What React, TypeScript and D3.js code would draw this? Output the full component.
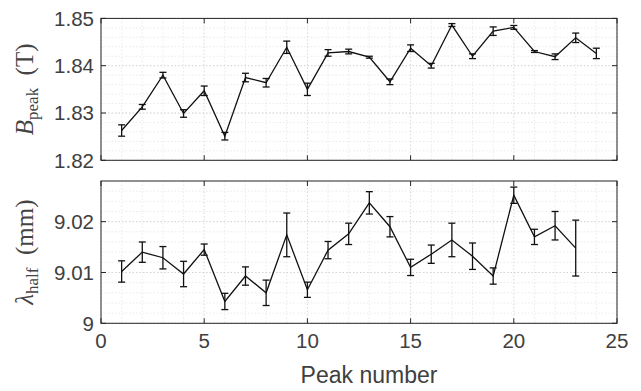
import React from "react";
import * as d3 from "d3";

const peakNumbers = [1,2,3,4,5,6,7,8,9,10,11,12,13,14,15,16,17,18,19,20,21,22,23,24];
const bPeak = [1.8263,1.8313,1.8380,1.8299,1.8347,1.8251,1.8375,1.8364,1.8439,1.8350,1.8427,1.8430,1.8418,1.8366,1.8437,1.8400,1.8486,1.8420,1.8473,1.8481,1.8430,1.8419,1.8459,1.8426];
const bErr = [0.0012,0.0005,0.0006,0.0008,0.0010,0.0008,0.0009,0.0009,0.0013,0.0013,0.0007,0.0005,0.0002,0.0006,0.0007,0.0005,0.0003,0.0005,0.0009,0.0004,0.0002,0.0006,0.0010,0.0011];
const lHalf = [9.0102,9.0140,9.0129,9.0097,9.0145,9.0043,9.0093,9.0060,9.0174,9.0066,9.0144,9.0176,9.0237,9.0190,9.0110,9.0136,9.0164,9.0132,9.0093,9.0252,9.0170,9.0192,9.0148];
const lErr = [0.0021,0.0020,0.0022,0.0025,0.0011,0.0016,0.0018,0.0025,0.0043,0.0015,0.0017,0.0021,0.0022,0.0020,0.0016,0.0018,0.0033,0.0026,0.0016,0.0016,0.0015,0.0028,0.0055];

const xTicks = [0,5,10,15,20,25];
const bTicks = [1.82,1.83,1.84,1.85];
const bTickLabels = ["1.82","1.83","1.84","1.85"];
const lTicks = [9,9.01,9.02];
const lTickLabels = ["9","9.01","9.02"];

const W = 641, H = 391;
const left = 101, right = 617;
const axisColor = "#262626";
const textColor = "#404040";
const tickFont = "'Liberation Sans', Arial, sans-serif";
const serif = "'Liberation Serif', 'Times New Roman', serif";

const x = d3.scaleLinear().domain([0, 25]).range([left, right]);

type PanelProps = {
  top: number; bottom: number; domain: [number, number];
  ys: number[]; errs: number[]; ticks: number[]; tickLabels: string[];
  minorStep: number; label: React.ReactNode;
};

function Panel({ top, bottom, domain, ys, errs, ticks, tickLabels, minorStep, label }: PanelProps) {
  const y = d3.scaleLinear().domain(domain).range([bottom, top]);
  const pts: [number, number][] = ys.map((v, i) => [x(peakNumbers[i]), y(v)]);
  const line = d3.line()(pts) || "";
  const minorX = d3.range(0, 26, 1);
  const nMinor = Math.round((domain[1] - domain[0]) / minorStep);
  const minorY = d3.range(0, nMinor + 1).map(i => domain[0] + i * minorStep);
  const tl = 5;
  return (
    <g>
      {minorX.map(v => (
        <line key={"mx" + v} x1={x(v)} x2={x(v)} y1={top} y2={bottom}
          stroke={v % 5 === 0 ? "#cfcfcf" : "#e4e4e4"} strokeWidth={0.8} strokeDasharray="1.5,2" />
      ))}
      {minorY.map((v, i) => (
        <line key={"my" + i} x1={left} x2={right} y1={y(v)} y2={y(v)}
          stroke="#e4e4e4" strokeWidth={0.8} strokeDasharray="1.5,2" />
      ))}
      {ticks.map((v, i) => (
        <line key={"gy" + i} x1={left} x2={right} y1={y(v)} y2={y(v)}
          stroke="#cfcfcf" strokeWidth={0.8} strokeDasharray="1.5,2" />
      ))}
      <rect x={left} y={top} width={right - left} height={bottom - top} fill="none" stroke={axisColor} strokeWidth={1} />
      {xTicks.map(v => (
        <g key={"xt" + v}>
          <line x1={x(v)} x2={x(v)} y1={bottom} y2={bottom - tl} stroke={axisColor} />
          <line x1={x(v)} x2={x(v)} y1={top} y2={top + tl} stroke={axisColor} />
        </g>
      ))}
      {ticks.map((v, i) => (
        <g key={"yt" + i}>
          <line x1={left} x2={left + tl} y1={y(v)} y2={y(v)} stroke={axisColor} />
          <line x1={right} x2={right - tl} y1={y(v)} y2={y(v)} stroke={axisColor} />
          <text x={left - 7} y={y(v)} dy="0.36em" textAnchor="end" fontFamily={tickFont} fontSize={20.5} fill={textColor}>{tickLabels[i]}</text>
        </g>
      ))}
      <path d={line} fill="none" stroke="#111" strokeWidth={1.3} />
      {ys.map((v, i) => {
        const cx = x(peakNumbers[i]);
        const y0 = y(v - errs[i]);
        const y1 = y(v + errs[i]);
        return (
          <g key={"e" + i} stroke="#111" strokeWidth={1.3}>
            <line x1={cx} x2={cx} y1={y0} y2={y1} />
            <line x1={cx - 3.5} x2={cx + 3.5} y1={y0} y2={y0} />
            <line x1={cx - 3.5} x2={cx + 3.5} y1={y1} y2={y1} />
          </g>
        );
      })}
      <text transform={`translate(33,${(top + bottom) / 2}) rotate(-90)`} textAnchor="middle" fontFamily={serif} fontSize={25} fill="#444">{label}</text>
    </g>
  );
}

export default function App() {
  return (
    <svg width={W} height={H} style={{ position: "absolute", left: 0, top: 0, background: "#fff" }}>
      <rect width={W} height={H} fill="#fff" />
      <Panel top={18.4} bottom={160.3} domain={[1.82, 1.85]} ys={bPeak} errs={bErr}
        ticks={bTicks} tickLabels={bTickLabels} minorStep={0.002}
        label={<><tspan fontStyle="italic">B</tspan><tspan fontSize={17} dy={5}>peak</tspan><tspan dy={-5}>{"\u2002(T)"}</tspan></>} />
      <Panel top={181} bottom={323.3} domain={[9, 9.028]} ys={lHalf} errs={lErr}
        ticks={lTicks} tickLabels={lTickLabels} minorStep={0.002}
        label={<><tspan fontStyle="italic">λ</tspan><tspan fontSize={17} dy={5}>half</tspan><tspan dy={-5}>{"\u2002(mm)"}</tspan></>} />
      {xTicks.map(v => (
        <text key={"xl" + v} x={x(v)} y={348} textAnchor="middle" fontFamily={tickFont} fontSize={20.5} fill={textColor}>{v}</text>
      ))}
      <text x={(left + right) / 2 + 10} y={383} textAnchor="middle" fontFamily={tickFont} fontSize={23} fill={textColor}>Peak number</text>
    </svg>
  );
}
